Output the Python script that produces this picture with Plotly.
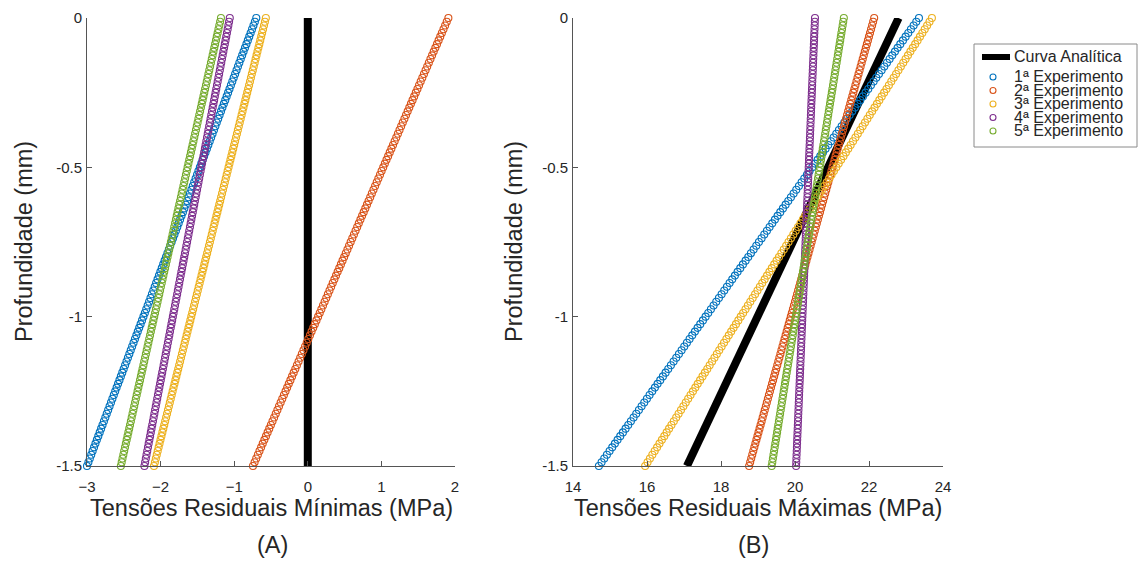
import numpy as np
import plotly.graph_objects as go

# Depth grid (mm) at which each experiment was evaluated
depth_top = 0.0
depth_bottom = -1.5
n_points = 121

series_names = ["1ª Experimento", "2ª Experimento", "3ª Experimento",
                "4ª Experimento", "5ª Experimento"]
analytic_name = "Curva Analítica"
colors = ["#0072BD", "#D95319", "#EDB120", "#7E2F8E", "#77AC30"]

# Minimum residual stress (MPa): value at surface and at -1.5 mm (linear profiles)
min_surface = [-0.70, 1.91, -0.57, -1.06, -1.18]
min_bottom = [-3.00, -0.745, -2.09, -2.22, -2.54]

# Maximum residual stress (MPa): value at surface and at -1.5 mm (linear profiles)
max_surface = [23.35, 22.14, 23.70, 20.54, 21.32]
max_bottom = [14.70, 18.76, 15.95, 20.03, 19.37]

# Analytic curve end points (surface, -1.5 mm)
analytic_depth = [0.0, -1.5]
analytic_min = [0.0, 0.0]
analytic_max = [22.80, 17.08]

x_ticks_a = [-3, -2, -1, 0, 1, 2]
x_ticks_b = [14, 16, 18, 20, 22, 24]
y_ticks = [0, -0.5, -1, -1.5]

depth = np.linspace(depth_top, depth_bottom, n_points)
frac = (depth - depth_top) / (depth_bottom - depth_top)

FONT = "Arial, Liberation Sans, Helvetica, sans-serif"
AXIS_COL = "#555555"
TXT_COL = "#262626"
W, H = 1141, 561


def marker_style(c, size=7):
    return dict(symbol="circle-open", size=size, color=c, line=dict(width=1.1, color=c))


fig = go.Figure()

# Analytic curve
fig.add_trace(go.Scatter(x=analytic_min, y=analytic_depth, mode="lines",
                         line=dict(color="black", width=8), showlegend=False,
                         xaxis="x", yaxis="y", cliponaxis=False))
fig.add_trace(go.Scatter(x=analytic_max, y=analytic_depth, mode="lines",
                         line=dict(color="black", width=8), showlegend=False,
                         xaxis="x2", yaxis="y2", cliponaxis=False))

for name, c, s0, s1, m0, m1 in zip(series_names, colors, min_surface, min_bottom,
                                   max_surface, max_bottom):
    fig.add_trace(go.Scatter(x=s0 + (s1 - s0) * frac, y=depth, mode="markers",
                             marker=marker_style(c), name=name, showlegend=False,
                             xaxis="x", yaxis="y", cliponaxis=False))
    fig.add_trace(go.Scatter(x=m0 + (m1 - m0) * frac, y=depth, mode="markers",
                             marker=marker_style(c), name=name, showlegend=False,
                             xaxis="x2", yaxis="y2", cliponaxis=False))

# Compact legend box drawn on its own hidden axes (pixel-like units, y downward)
leg_x0, leg_x1, leg_y0, leg_y1 = 974, 1137, 44, 147
leg_rows = [57, 77, 90.5, 104, 117.5, 131]
leg_sym_x = 993
leg_line_x = [982, 1010]
leg_text_x = 1012

fig.add_trace(go.Scatter(x=leg_line_x, y=[leg_rows[0]] * 2, mode="lines",
                         line=dict(color="black", width=6), showlegend=False,
                         xaxis="x3", yaxis="y3", hoverinfo="skip"))
for row, c in zip(leg_rows[1:], colors):
    fig.add_trace(go.Scatter(x=[leg_sym_x], y=[row], mode="markers",
                             marker=marker_style(c, 6), showlegend=False,
                             xaxis="x3", yaxis="y3", hoverinfo="skip"))

left_a, right_a = 87 / W, 455 / W
left_b, right_b = 573 / W, 943 / W
y_dom = [1 - 466 / H, 1 - 18 / H]

common_x = dict(showline=True, linecolor=AXIS_COL, linewidth=1, mirror=False,
                ticks="inside", ticklen=5, tickcolor=AXIS_COL, showgrid=False,
                zeroline=False, tickfont=dict(family=FONT, size=15, color=TXT_COL),
                ticklabelstandoff=7)
common_y = dict(showline=True, linecolor=AXIS_COL, linewidth=1, mirror=False,
                ticks="inside", ticklen=5, tickcolor=AXIS_COL, showgrid=False,
                zeroline=False, tickfont=dict(family=FONT, size=15, color=TXT_COL),
                range=[-1.5, 0], tickvals=y_ticks,
                ticktext=[f"{v:g}" for v in y_ticks], ticklabelstandoff=1)

fig.update_layout(
    width=W, height=H,
    margin=dict(l=0, r=0, t=0, b=0, autoexpand=False),
    paper_bgcolor="white", plot_bgcolor="white",
    font=dict(family=FONT, color=TXT_COL),
    xaxis=dict(domain=[left_a, right_a], range=[-3, 2], tickvals=x_ticks_a,
               anchor="y", **common_x),
    yaxis=dict(domain=y_dom, anchor="x", **common_y),
    xaxis2=dict(domain=[left_b, right_b], range=[14, 24], tickvals=x_ticks_b,
                anchor="y2", **common_x),
    yaxis2=dict(domain=y_dom, anchor="x2", **common_y),
    xaxis3=dict(domain=[leg_x0 / W, leg_x1 / W], range=[leg_x0, leg_x1],
                visible=False, fixedrange=True, anchor="y3"),
    yaxis3=dict(domain=[1 - leg_y1 / H, 1 - leg_y0 / H], range=[leg_y1, leg_y0],
                visible=False, fixedrange=True, anchor="x3"),
    showlegend=False,
)

shapes = [dict(type="rect", xref="paper", yref="paper",
               x0=leg_x0 / W, x1=leg_x1 / W, y0=1 - leg_y1 / H, y1=1 - leg_y0 / H,
               line=dict(color="#8a8a8a", width=1), fillcolor="rgba(0,0,0,0)",
               layer="below")]

ann = []
for row, label in zip(leg_rows, [analytic_name] + series_names):
    ann.append(dict(text=label, x=leg_text_x, y=row, xref="x3", yref="y3",
                    xanchor="left", yanchor="middle", showarrow=False,
                    font=dict(family=FONT, size=16, color=TXT_COL)))


def centred(text, px, py, size=23.5, angle=0):
    return dict(text=text, x=px / W, y=1 - py / H, xref="paper", yref="paper",
                xanchor="center", yanchor="middle", showarrow=False, textangle=angle,
                font=dict(family=FONT, size=size, color=TXT_COL))


mid_y = (18 + 466) / 2
ann.append(centred("Tensões Residuais Mínimas (MPa)", (87 + 455) / 2, 508))
ann.append(centred("Tensões Residuais Máximas (MPa)", (573 + 943) / 2, 508))
ann.append(centred("Profundidade (mm)", 24, mid_y, angle=-90))
ann.append(centred("Profundidade (mm)", 514, mid_y, angle=-90))
ann.append(centred("(A)", 272, 545))
ann.append(centred("(B)", 753, 545))
fig.update_layout(annotations=ann, shapes=shapes)

fig.write_html("out.html")
